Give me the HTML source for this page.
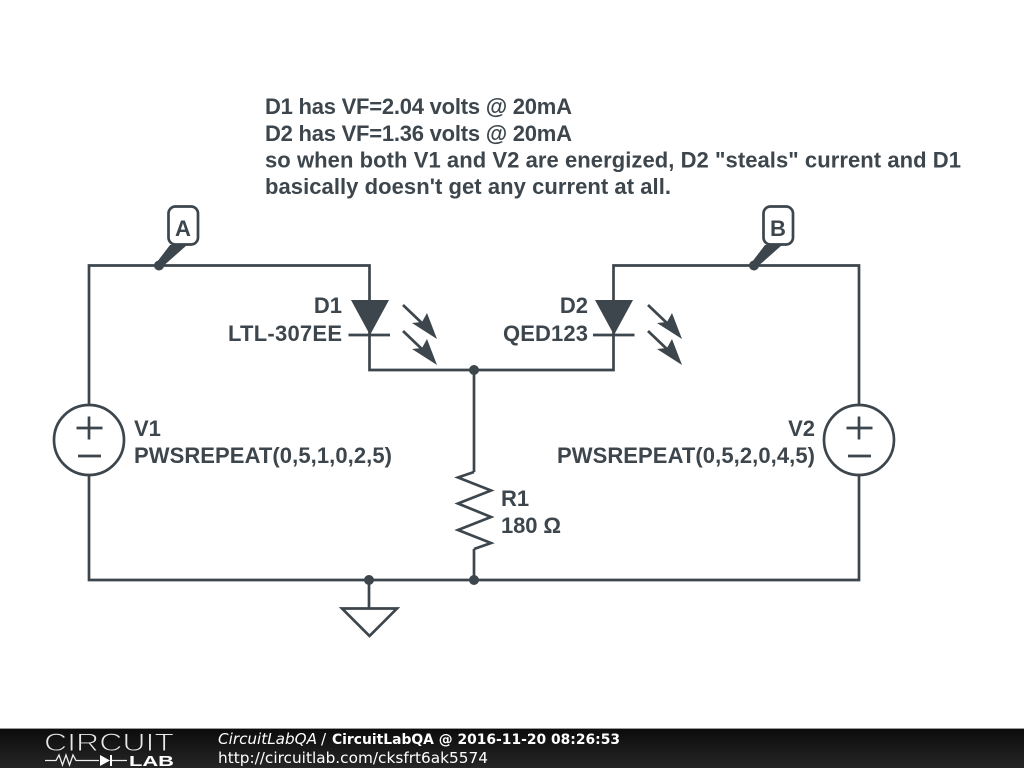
<!DOCTYPE html>
<html><head><meta charset="utf-8"><style>
html,body{margin:0;padding:0;background:#fff;width:1024px;height:768px;overflow:hidden}
svg{display:block}
.t{font-family:"Liberation Sans",sans-serif;font-weight:bold;font-size:22px;fill:#3d464c}
.w{fill:none;stroke:#3d464c;stroke-width:2.7;stroke-linecap:butt;stroke-linejoin:miter}
.f{fill:#3d464c}
</style></head><body>
<svg width="1024" height="768" viewBox="0 0 1024 768" xmlns="http://www.w3.org/2000/svg">
<defs><linearGradient id="g" x1="0" y1="0" x2="0" y2="1"><stop offset="0" stop-color="#0c0c0c"/><stop offset="1" stop-color="#262626"/></linearGradient></defs>
<rect width="1024" height="768" fill="#fff"/>

<text class="t" x="265" y="114" textLength="307" lengthAdjust="spacing">D1 has VF=2.04 volts @ 20mA</text>
<text class="t" x="265" y="141" textLength="307" lengthAdjust="spacing">D2 has VF=1.36 volts @ 20mA</text>
<text class="t" x="265" y="167.500" textLength="696" lengthAdjust="spacing">so when both V1 and V2 are energized, D2 "steals" current and D1</text>
<text class="t" x="265" y="194" textLength="406" lengthAdjust="spacing">basically doesn't get any current at all.</text>

<path class="w" d="M89 405V265.500H369.500V370H613.500V265.500H859V405"/>
<path class="w" d="M89 475V580H859V475"/>
<path class="w" d="M474 370V472"/>
<path class="w" d="M474 549V580"/>
<path class="w" d="M474 472L458 477.500L491 490.500L458 503.500L491 517L458 530L491 543L474 549"/>

<circle class="w" cx="89" cy="440" r="35"/>
<path class="w" d="M76.500 428H102.500M89 416.500V439.500M78 456H101"/>
<circle class="w" cx="859" cy="440" r="35"/>
<path class="w" d="M846.500 428H872.500M859 416.500V439.500M848 456H871"/>

<polygon class="f" points="351,300 389,300 370,335"/>
<path class="w" d="M348.500 335H390"/>
<polygon class="f" points="595,300 633,300 614,335"/>
<path class="w" d="M593 335H634.500"/>

<path class="w" d="M403 305L425 326"/>
<polygon class="f" points="437,339 412,323 422,322 427,313"/>
<path class="w" d="M403 331L425 352"/>
<polygon class="f" points="437,365 412,349 422,348 427,339"/>
<g transform="translate(245,0)">
<path class="w" d="M403 305L425 326"/>
<polygon class="f" points="437,339 412,323 422,322 427,313"/>
<path class="w" d="M403 331L425 352"/>
<polygon class="f" points="437,365 412,349 422,348 427,339"/>
</g>

<circle class="f" cx="474" cy="370" r="5"/>
<circle class="f" cx="474" cy="580" r="5"/>
<circle class="f" cx="369" cy="580" r="5"/>
<circle class="f" cx="159" cy="265.500" r="5"/>
<circle class="f" cx="754" cy="265.500" r="5"/>

<path class="w" d="M369 580V608"/>
<polygon class="w" points="342,608.500 397,608.500 369.500,636"/>

<polygon class="f" points="157,262 170,245 187,245 161,268"/>
<rect x="168.500" y="206.500" width="29.500" height="38" rx="7" fill="#fff" stroke="#3d464c" stroke-width="2.700"/>
<text class="t" x="183" y="236" text-anchor="middle">A</text>
<polygon class="f" points="752,262 765,245 782,245 756,268"/>
<rect x="763.500" y="206.500" width="29.500" height="38" rx="7" fill="#fff" stroke="#3d464c" stroke-width="2.700"/>
<text class="t" x="778" y="236" text-anchor="middle">B</text>

<text class="t" x="342" y="313" text-anchor="end">D1</text>
<text class="t" x="228" y="341" textLength="114" lengthAdjust="spacing">LTL-307EE</text>
<text class="t" x="588" y="313" text-anchor="end">D2</text>
<text class="t" x="503" y="341" textLength="85" lengthAdjust="spacing">QED123</text>

<text class="t" x="134" y="436">V1</text>
<text class="t" x="134" y="463" textLength="258" lengthAdjust="spacing">PWSREPEAT(0,5,1,0,2,5)</text>
<text class="t" x="815" y="436" text-anchor="end">V2</text>
<text class="t" x="557" y="463" textLength="258" lengthAdjust="spacing">PWSREPEAT(0,5,2,0,4,5)</text>
<text class="t" x="501" y="506">R1</text>
<text class="t" x="501" y="533" textLength="60" lengthAdjust="spacing">180 Ω</text>

<rect x="0" y="729" width="1024" height="39" fill="url(#g)"/>
<rect x="0" y="728" width="1024" height="1" fill="#999"/>
<text x="44" y="751" font-family="'Liberation Sans',sans-serif" font-size="25" fill="#e8e8e8" stroke="#141414" stroke-width="0.900" textLength="130" lengthAdjust="spacingAndGlyphs">CIRCUIT</text>
<path d="M45 760.500H56L59 755L62.500 765L66 755L69.500 765L73 755L76 760.500H99M112 760.500H127" fill="none" stroke="#eee" stroke-width="1.300"/>
<polygon points="100,755 100,766 110,760.500" fill="#fff"/><rect x="110" y="755" width="2" height="11" fill="#fff"/>
<text x="129" y="766" font-family="'Liberation Sans',sans-serif" font-weight="bold" font-size="15" fill="#fff" textLength="45" lengthAdjust="spacingAndGlyphs">LAB</text>
<text x="218" y="744" font-family="'DejaVu Sans',sans-serif" font-size="15.200" font-style="italic" fill="#fff">CircuitLabQA</text>
<text x="321" y="744" font-family="'DejaVu Sans',sans-serif" font-size="15.200" fill="#fff">/</text>
<text x="332" y="744" font-family="'DejaVu Sans',sans-serif" font-size="14" font-weight="bold" fill="#fff" textLength="288" lengthAdjust="spacingAndGlyphs">CircuitLabQA @ 2016-11-20 08:26:53</text>
<text x="218" y="763" font-family="'DejaVu Sans',sans-serif" font-size="15.300" fill="#fff" textLength="270" lengthAdjust="spacingAndGlyphs">http://circuitlab.com/cksfrt6ak5574</text>
</svg>
</body></html>
